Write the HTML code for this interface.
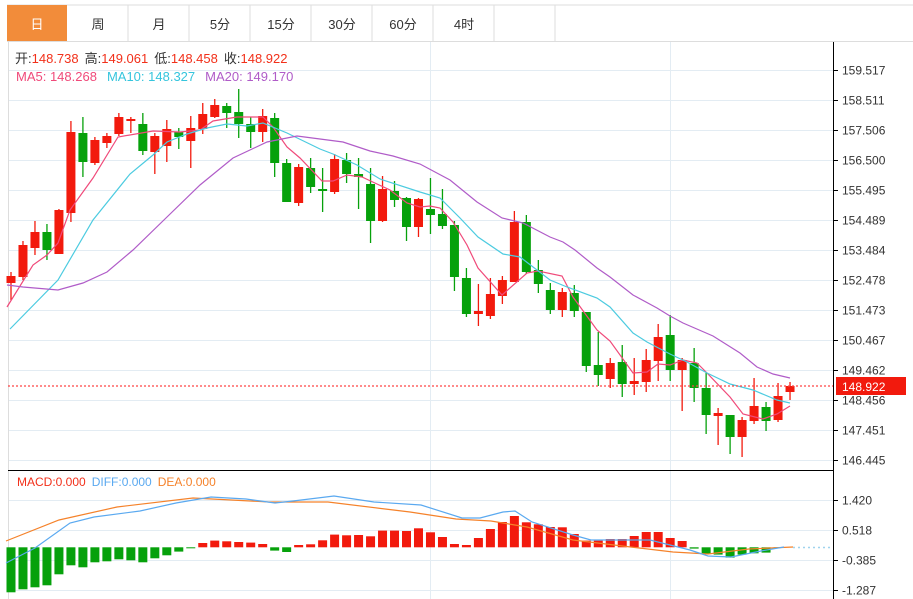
<!DOCTYPE html>
<html><head><meta charset="utf-8"><style>
body{margin:0;background:#fff;width:913px;height:599px;overflow:hidden;font-family:"Liberation Sans","Noto Sans CJK SC",sans-serif}
svg{position:absolute;left:0;top:0}
</style></head><body>
<svg id="s" width="913" height="599" xmlns="http://www.w3.org/2000/svg" font-family="Liberation Sans, Noto Sans CJK SC, sans-serif">
<rect x="0" y="0" width="913" height="599" fill="#fff"/>
<!-- tabs -->
<line x1="7" y1="5" x2="913" y2="5" stroke="#ddd"/>
<line x1="7" y1="41.5" x2="913" y2="41.5" stroke="#ddd"/>
<rect x="7" y="5" width="60" height="36" fill="#f28c3a"/>
<g stroke="#ddd"><line x1="128" y1="5" x2="128" y2="41"/><line x1="189" y1="5" x2="189" y2="41"/><line x1="250" y1="5" x2="250" y2="41"/><line x1="311" y1="5" x2="311" y2="41"/><line x1="372" y1="5" x2="372" y2="41"/><line x1="433" y1="5" x2="433" y2="41"/><line x1="494" y1="5" x2="494" y2="41"/><line x1="555" y1="5" x2="555" y2="41"/></g>
<g font-size="13" text-anchor="middle" fill="#333">
<text x="37" y="29" fill="#fff">日</text><text x="98" y="29">周</text><text x="159" y="29">月</text><text x="220" y="29">5分</text><text x="281" y="29">15分</text><text x="342" y="29">30分</text><text x="403" y="29">60分</text><text x="464" y="29">4时</text></g>
<!-- grid -->
<g id="grid" stroke="#e3ecf3" stroke-width="1"></g>
<line x1="8.5" y1="42" x2="8.5" y2="599" stroke="#ddd"/>
<line x1="8" y1="470.5" x2="833" y2="470.5" stroke="#000"/>
<line x1="833.5" y1="42" x2="833.5" y2="599" stroke="#000"/>
<g id="ticks" font-size="12" fill="#333"></g>
<g id="plot"></g>
<!-- price line -->
<line x1="8" y1="386" x2="833" y2="386" stroke="#f44" stroke-dasharray="2,2" stroke-width="1.2"/>
<rect x="836" y="377" width="70" height="18" fill="#f21a0d"/>
<text x="842" y="391" font-size="12" fill="#fff">148.922</text>
<line x1="793" y1="547.5" x2="833" y2="547.5" stroke="#9fd3ee" stroke-dasharray="2,3" stroke-width="1.5"/>
<!-- info -->
<g font-size="13">
<text x="15" y="63"><tspan fill="#333">开:</tspan><tspan fill="#f2301a">148.738</tspan><tspan fill="#333" dx="6">高:</tspan><tspan fill="#f2301a">149.061</tspan><tspan fill="#333" dx="6">低:</tspan><tspan fill="#f2301a">148.458</tspan><tspan fill="#333" dx="6">收:</tspan><tspan fill="#f2301a">148.922</tspan></text>
<text x="16" y="81"><tspan fill="#f04a7a">MA5: 148.268</tspan><tspan fill="#35c5dd" dx="10">MA10: 148.327</tspan><tspan fill="#b05cc8" dx="10">MA20: 149.170</tspan></text>
</g>
<text x="17" y="486" font-size="12"><tspan fill="#f2301a">MACD:0.000</tspan><tspan fill="#5aa9f0" dx="6">DIFF:0.000</tspan><tspan fill="#f5822a" dx="6">DEA:0.000</tspan></text>
</svg>
<script>
var NS="http://www.w3.org/2000/svg",g=document.getElementById('grid'),p=document.getElementById('plot'),t=document.getElementById('ticks');
function el(par,n,a){var e=document.createElementNS(NS,n);for(var k in a)e.setAttribute(k,a[k]);par.appendChild(e);return e;}
var pl=["159.517","158.511","157.506","156.500","155.495","154.489","153.484","152.478","151.473","150.467","149.462","148.456","147.451","146.445"];
for(var i=0;i<14;i++){var y=70+30*i+.5;el(g,'line',{x1:9,y1:y,x2:833,y2:y});el(t,'line',{x1:833,y1:y,x2:838,y2:y,stroke:'#000'});var tx=el(t,'text',{x:842,y:y+4});tx.textContent=pl[i];}
var ml=["1.420","0.518","-0.385","-1.287"];
for(var i=0;i<4;i++){var y=500+30*i+.5;el(g,'line',{x1:9,y1:y,x2:833,y2:y});el(t,'line',{x1:833,y1:y,x2:838,y2:y,stroke:'#000'});var tx=el(t,'text',{x:842,y:y+4});tx.textContent=ml[i];}
[430.5,670.5].forEach(function(x){el(g,'line',{x1:x,y1:42,x2:x,y2:599});});
var R='#f21a0d',G='#06a10b';
var c=[[1,276,283,272,300],[1,245,277,241,280],[1,232,248,221,255],[0,232,250,224,260],[1,210,254,209,254],[1,132,213,121,222],[0,133,162,117,177],[1,140,163,137,165],[1,136,143,133,148],[1,117,134,113,136],[1,119,121,117,133],[0,124,151,113,155],[1,136,152,133,174],[1,129,146,120,162],[0,132,137,128,149],[1,128,141,116,168],[1,114,129,103,134],[1,105,117,99,118],[0,106,113,103,128],[0,112,124,89,138],[0,124,132,117,148],[1,116,132,109,142],[0,118,163,113,177],[0,163,202,159,202],[1,167,203,164,206],[0,168,187,158,193],[0,189,191,168,212],[1,159,192,154,194],[0,160,174,153,183],[0,174,177,158,209],[0,184,221,168,243],[1,189,221,176,222],[0,191,200,181,207],[0,198,227,197,241],[1,199,227,198,237],[0,209,215,178,234],[0,214,226,189,229],[0,225,277,221,291],[0,278,314,268,317],[1,311,314,284,326],[1,294,316,278,319],[1,280,296,276,304],[1,222,282,211,282],[0,222,272,215,274],[0,270,284,260,293],[0,290,310,283,314],[1,292,310,288,317],[0,293,311,285,317],[0,312,366,312,372],[0,365,375,332,386],[1,363,379,358,388],[0,362,384,345,397],[1,381,384,358,395],[1,360,382,349,392],[1,337,361,324,381],[0,335,370,315,381],[1,360,370,358,411],[0,363,388,348,402],[0,388,415,373,434],[1,413,416,408,445],[0,415,437,415,454],[1,420,437,417,457],[1,406,421,378,424],[0,407,421,402,431],[1,396,420,383,422],[1,386,392,382,400]];
var h=[-45,-42,-40,-38,-27,-18,-20,-15,-14,-12,-13,-15,-11,-8,-4.3,-1,4.3,6.7,6,5.3,4.7,3.3,-3.3,-4.7,2.3,3,7,12.7,12,12.3,11,16.7,16.7,16.3,19,15,10.3,3.3,2.3,9.3,18.3,25.3,31.3,25,23,20.3,20,13.3,6.7,6.7,8.3,8.3,11.3,15.3,15.3,9.3,6.3,-1.3,-6.7,-7.3,-10.3,-7.3,-6,-5.3,-0.7,0];
for(var i=0;i<66;i++){var x=11+i*11.985,d=c[i],col=d[0]?R:G;
el(p,'line',{x1:x,y1:d[3],x2:x,y2:d[4],stroke:col,'stroke-width':1.3});
el(p,'rect',{x:x-4.5,y:d[1],width:9,height:Math.max(1.5,d[2]-d[1]),fill:col});
var v=h[i];if(v){el(p,'rect',{x:x-4.5,y:v>0?547.3-v:547.3,width:9,height:Math.abs(v),fill:v>0?R:G});}}
function line(pts,col){el(p,'polyline',{points:pts,fill:'none',stroke:col,'stroke-width':1.2});}
line("7,307 33,265 47,255 58,243 70,210 93,178 118,137 153,131 180,132 200,130 213,121 237,117 263,117 273,127 287,147 300,158 322,181 333,181 347,175 362,177 377,184 390,190 407,203 420,207 430,206 440,208 453,222 467,245 478,268 502,295 527,273 538,271 562,276 573,297 597,330 610,341 633,373 647,372 658,364 670,365 683,360 697,363 707,373 730,397 743,414 763,419 777,414 790,406","#f04a7a");
line("10,329 58,280 93,220 130,174 153,155 167,142 187,134 207,128 227,124 247,126 263,123 287,133 320,149 333,154 357,165 380,179 420,192 440,198 460,218 478,237 503,254 520,257 550,280 567,287 597,298 610,307 633,333 647,342 670,354 687,362 707,373 730,384 753,390 777,400 790,403","#4ccbe0");
line("7,285 23,287 58,290 83,283 107,272 133,250 167,217 200,185 233,158 267,142 297,136 320,139 343,142 370,151 393,156 420,164 450,180 477,202 502,218 523,223 550,237 563,242 575,250 597,268 610,277 633,295 657,308 670,316 683,323 713,336 740,353 757,367 773,374 790,378","#b05cc8");
line("6,541 59,520 117,507 193,498 269,502 328,502 410,512 456,519 491,521 527,527 573,540 614,545 673,552 708,554 749,549 793,547","#f5822a");
line("6,563 35,548 70,523 94,517 140,511 176,503 211,497 246,499 275,503 293,501 334,496 374,502 421,505 462,518 480,518 503,512 515,511 532,522 573,535 591,540 650,540 690,550 708,556 731,557 761,551 784,547","#5aa9f0");
</script>
</body></html>
